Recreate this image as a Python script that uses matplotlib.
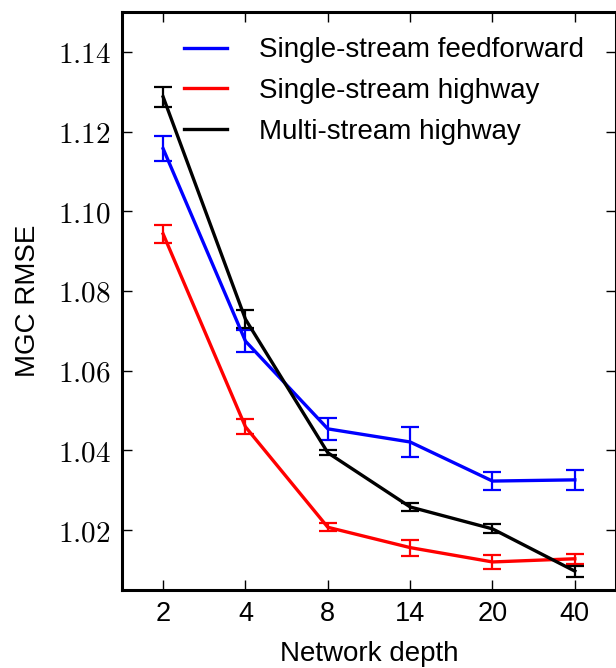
import matplotlib
matplotlib.use("Agg")
import matplotlib.pyplot as plt
from matplotlib.ticker import FuncFormatter
from matplotlib.lines import Line2D

depths = ["2", "4", "8", "14", "20", "40"]
ff_mean = [1.1157, 1.0674, 1.0454, 1.0421, 1.0323, 1.0326]
ff_err = [0.0031, 0.0027, 0.0028, 0.0037, 0.0022, 0.0025]
hw_mean = [1.0943, 1.0459, 1.0207, 1.0156, 1.0120, 1.0128]
hw_err = [0.0023, 0.0019, 0.0010, 0.0020, 0.0017, 0.0013]
ms_mean = [1.1287, 1.0729, 1.0394, 1.0258, 1.0203, 1.0097]
ms_err = [0.0025, 0.0022, 0.0006, 0.0011, 0.0011, 0.0014]
labels = ["Single-stream feedforward", "Single-stream highway", "Multi-stream highway"]
yticks = [1.02, 1.04, 1.06, 1.08, 1.10, 1.12, 1.14]

plt.rcParams['font.family'] = ['Liberation Sans', 'DejaVu Sans']
plt.rcParams['mathtext.fontset'] = 'cm'

fig = plt.figure(figsize=(6.16, 6.68), dpi=100)
ax = fig.add_axes([0.198, 0.117, 0.802, 0.865])

x = list(range(len(depths)))
colors = ['#0000ff', '#ff0000', '#000000']
handles = []
for mean, err, color, lab in zip([ff_mean, hw_mean, ms_mean], [ff_err, hw_err, ms_err],
                                 colors, labels):
    ax.errorbar(x, mean, yerr=err, color=color, lw=2.4, elinewidth=1.6,
                capsize=6.5, capthick=1.6)
    handles.append(Line2D([], [], color=color, lw=2.4, label=lab))

ax.set_xlim(-0.5, 5.5)
ax.set_ylim(1.005, 1.15)
ax.set_xticks(x)
ax.set_xticklabels(depths, fontsize=19.5)
ax.set_yticks(yticks)
ax.yaxis.set_major_formatter(FuncFormatter(lambda v, p: r'$%.2f$' % v))
ax.tick_params(axis='y', labelsize=21)
ax.tick_params(direction='in', length=7, width=1, top=True, right=True, pad=8)
for s in ax.spines.values():
    s.set_linewidth(2.2)
ax.set_xlabel("Network depth", fontsize=20, labelpad=10)
ax.set_ylabel("MGC RMSE", fontsize=20, labelpad=12)

ax.legend(handles=handles, loc='upper right', frameon=False, fontsize=20,
          handlelength=1.55, handletextpad=1.15, labelspacing=0.53,
          borderaxespad=0.4, bbox_to_anchor=(1 - 10 / 494, 1 - 3 / 578))

fig.savefig("out.png", dpi=100)
